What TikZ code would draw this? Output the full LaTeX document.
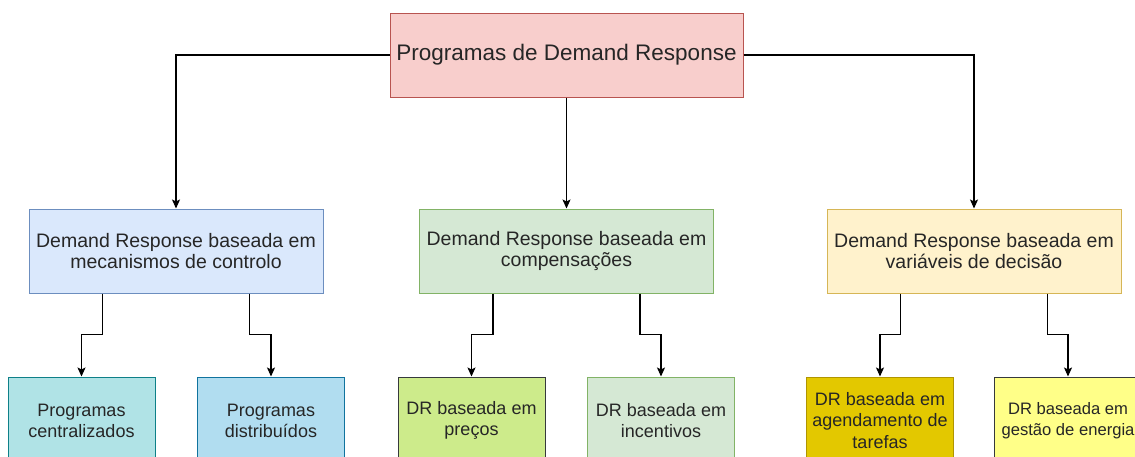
\documentclass[tikz,border=0pt]{standalone}
\usepackage{fontspec}
\setmainfont{Liberation Sans}
\usetikzlibrary{arrows.meta,calc}
\definecolor{topF}{HTML}{F8CECC}\definecolor{topD}{HTML}{B85450}
\definecolor{blF}{HTML}{DAE8FC}\definecolor{blD}{HTML}{6C8EBF}
\definecolor{grF}{HTML}{D5E8D4}\definecolor{grD}{HTML}{82B366}
\definecolor{yeF}{HTML}{FFF2CC}\definecolor{yeD}{HTML}{D6B656}
\definecolor{tqF}{HTML}{B0E3E6}\definecolor{tqD}{HTML}{0E8088}
\definecolor{skF}{HTML}{B1DDF0}\definecolor{skD}{HTML}{10739E}
\definecolor{lmF}{HTML}{CDEB8B}\definecolor{dkD}{HTML}{36393D}
\definecolor{goF}{HTML}{E3C800}\definecolor{goD}{HTML}{B09500}
\definecolor{lyF}{HTML}{FFFF88}
\definecolor{txt}{HTML}{262626}
\tikzset{
  box/.style={draw, line width=1pt, text=txt, align=center, inner sep=0pt},
  topbox/.style={box, minimum width=353pt, minimum height=84pt, font=\fontsize{22.5}{27}\selectfont},
  midbox/.style={box, minimum width=294pt, minimum height=84pt, font=\fontsize{19.5}{21.5}\selectfont},
  lowbox/.style={box, minimum width=147pt, minimum height=87pt, font=\fontsize{18}{21.2}\selectfont},
  arr/.style={draw=black, line width=1.2pt, -{Stealth[length=9pt,width=8pt,inset=2pt]}}
}
\begin{document}
\begin{tikzpicture}[x=1pt,y=-1pt]
\useasboundingbox (0,0) rectangle (1135,456);
\clip (0,0) rectangle (1135,456);
\fill[white] (0,0) rectangle (1135,456);
\node[topbox, fill=topF, draw=topD] (top) at (566.5,55) {Programas de Demand Response};
\node[midbox, fill=blF, draw=blD] (mL) at (176,251) {Demand Response baseada em\\mecanismos de controlo};
\node[midbox, fill=grF, draw=grD] (mC) at (566.5,251) {Demand Response baseada em\\compensações};
\node[midbox, fill=yeF, draw=yeD] (mR) at (974,251) {Demand Response baseada em\\variáveis de decisão};
\node[lowbox, fill=tqF, draw=tqD] (b1) at (81.5,420.5) {Programas\\centralizados};
\node[lowbox, fill=skF, draw=skD] (b2) at (271,420.5) {Programas\\distribuídos};
\node[lowbox, fill=lmF, draw=dkD] (b3) at (471.5,420.5) {DR baseada em\\preços};
\node[lowbox, fill=grF, draw=grD] (b4) at (661,420.5) {DR baseada em\\incentivos};
\node[lowbox, fill=goF, draw=goD] (b5) at (880,420.5) {DR baseada em\\agendamento de\\tarefas};
\node[lowbox, fill=lyF, draw=dkD, font=\fontsize{16.6}{20.6}\selectfont] (b6) at (1068,420.5) {DR baseada em\\gestão de energia};
\draw[arr] (top.west) -| (mL.north);
\draw[arr] (top.east) -| (mR.north);
\draw[arr] (top.south) -- (mC.north);
\draw[arr] ([xshift=-73.5pt]mL.south) -- ++(0,41) -| (b1.north);
\draw[arr] ([xshift=73.5pt]mL.south) -- ++(0,41) -| (b2.north);
\draw[arr] ([xshift=-73.5pt]mC.south) -- ++(0,41) -| (b3.north);
\draw[arr] ([xshift=73.5pt]mC.south) -- ++(0,41) -| (b4.north);
\draw[arr] ([xshift=-73.5pt]mR.south) -- ++(0,41) -| (b5.north);
\draw[arr] ([xshift=73.5pt]mR.south) -- ++(0,41) -| (b6.north);
\end{tikzpicture}
\end{document}
